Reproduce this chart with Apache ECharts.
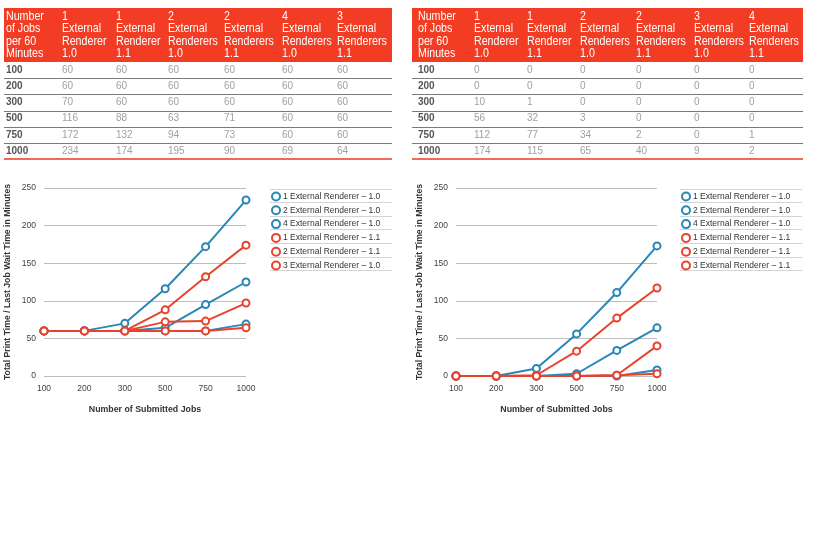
<!DOCTYPE html>
<html><head><meta charset="utf-8">
<script src="https://cdn.jsdelivr.net/npm/echarts@6/dist/echarts.min.js"></script>
<style>html,body{margin:0;padding:0;background:#fff}#c{width:813px;height:560px}</style>
</head><body><div id="c"></div>
<script>
// ---------- data ----------
const jobs = ['100', '200', '300', '500', '750', '1000'];

// left table
const leftHeaders = ['Number\nof Jobs\nper 60\nMinutes', '1\nExternal\nRenderer\n1.0', '1\nExternal\nRenderer\n1.1', '2\nExternal\nRenderers\n1.0', '2\nExternal\nRenderers\n1.1', '4\nExternal\nRenderers\n1.0', '3\nExternal\nRenderers\n1.1'];
const tL_1er10 = [60, 60, 70, 116, 172, 234];
const tL_1er11 = [60, 60, 60, 88, 132, 174];
const tL_2er10 = [60, 60, 60, 63, 94, 195];
const tL_2er11 = [60, 60, 60, 71, 73, 90];
const tL_4er10 = [60, 60, 60, 60, 60, 69];
const tL_3er11 = [60, 60, 60, 60, 60, 64];

// right table
const rightHeaders = ['Number\nof Jobs\nper 60\nMinutes', '1\nExternal\nRenderer\n1.0', '1\nExternal\nRenderer\n1.1', '2\nExternal\nRenderers\n1.0', '2\nExternal\nRenderers\n1.1', '3\nExternal\nRenderers\n1.0', '4\nExternal\nRenderers\n1.1'];
const tR_1er10 = [0, 0, 10, 56, 112, 174];
const tR_1er11 = [0, 0, 1, 32, 77, 115];
const tR_2er10 = [0, 0, 0, 3, 34, 65];
const tR_2er11 = [0, 0, 0, 0, 2, 40];
const tR_3er10 = [0, 0, 0, 0, 0, 9];
const tR_4er11 = [0, 0, 0, 0, 1, 2];

// left chart series (as plotted)
const leftNames = ['1 External Renderer – 1.0', '2 External Renderer – 1.0', '4 External Renderer – 1.0', '1 External Renderer – 1.1', '2 External Renderer – 1.1', '3 External Renderer – 1.0'];
const cL1 = [60, 60, 70, 116, 172, 234];
const cL2 = [60, 60, 60, 64, 95, 125];
const cL3 = [60, 60, 60, 60, 60, 69];
const cL4 = [60, 60, 60, 88, 132, 174];
const cL5 = [60, 60, 60, 72, 73, 97];
const cL6 = [60, 60, 60, 60, 60, 64];

// right chart series (as plotted)
const rightNames = ['1 External Renderer – 1.0', '2 External Renderer – 1.0', '4 External Renderer – 1.0', '1 External Renderer – 1.1', '2 External Renderer – 1.1', '3 External Renderer – 1.1'];
const cR1 = [0, 0, 10, 56, 111, 173];
const cR2 = [0, 0, 0, 3, 34, 64];
const cR3 = [0, 0, 0, 0, 0, 8];
const cR4 = [0, 0, 1, 33, 77, 117];
const cR5 = [0, 0, 0, 0, 1, 40];
const cR6 = [0, 0, 0, 0, 1, 3];

const yTitle = 'Total Print Time / Last Job Wait Time in Minutes';
const xTitle = 'Number of Submitted Jobs';

// ---------- style ----------
const BLUE = '#2a86b7';
const RED = '#e8432d';
const seriesColors = [BLUE, BLUE, BLUE, RED, RED, RED];
const FONT = '"Liberation Sans", Arial, Helvetica, sans-serif';

const graphics = [];
function buildTable(left, right, colX, headers, cols) {
  graphics.push({ type: 'rect', shape: { x: left, y: 8, width: right - left, height: 54 }, style: { fill: '#f23c23' }, silent: true });
  headers.forEach((h, i) => {
    graphics.push({ type: 'text', x: colX[i], y: 10.5, scaleX: 0.86, style: { text: h, fill: '#fff', font: '12.4px ' + FONT, lineHeight: 12.3, verticalAlign: 'top' }, silent: true });
  });
  const rowY = [70, 86.2, 102.4, 118.6, 134.8, 151];
  jobs.forEach((j, r) => {
    graphics.push({ type: 'text', x: colX[0], y: rowY[r], style: { text: j, fill: '#555', font: 'bold 10px ' + FONT, verticalAlign: 'middle' }, silent: true });
    cols.forEach((c, ci) => {
      graphics.push({ type: 'text', x: colX[ci + 1], y: rowY[r], style: { text: String(c[r]), fill: '#a0a0a0', font: '10px ' + FONT, verticalAlign: 'middle' }, silent: true });
    });
    if (r < jobs.length - 1) {
      const ly = Math.round(rowY[r] + 8.1) + 0.5;
      graphics.push({ type: 'line', shape: { x1: left, y1: ly, x2: right, y2: ly }, style: { stroke: '#7a7a7a', lineWidth: 1 }, silent: true });
    }
  });
  graphics.push({ type: 'line', shape: { x1: left, y1: 159, x2: right, y2: 159 }, style: { stroke: '#f26a58', lineWidth: 2 }, silent: true });
}
buildTable(4, 392, [6, 62, 116, 168, 224, 282, 337], leftHeaders, [tL_1er10, tL_1er11, tL_2er10, tL_2er11, tL_4er10, tL_3er11]);
buildTable(412, 803, [418, 474, 527, 580, 636, 694, 749], rightHeaders, [tR_1er10, tR_1er11, tR_2er10, tR_2er11, tR_3er10, tR_4er11]);

// legend separators
function legendLines(x1, x2) {
  for (let k = 0; k <= 6; k++) {
    const y = Math.round(188.5 + k * 13.65) + 0.5;
    graphics.push({ type: 'line', shape: { x1: x1, y1: y, x2: x2, y2: y }, style: { stroke: '#d4d4d4', lineWidth: 1 }, silent: true });
  }
}
legendLines(270, 392);
legendLines(680, 802);

function makeAxes(gridIndex) {
  return {
    x: {
      type: 'category', gridIndex: gridIndex, data: jobs, boundaryGap: false,
      axisLine: { show: false }, axisTick: { show: false },
      axisLabel: { color: '#444', fontSize: 8.5, fontFamily: FONT, margin: 8 },
      name: xTitle, nameLocation: 'middle', nameGap: 29,
      nameTextStyle: { fontWeight: 'bold', fontSize: 8.8, color: '#333', fontFamily: FONT }
    },
    y: {
      type: 'value', gridIndex: gridIndex, min: 0, max: 250, interval: 50,
      axisLine: { show: false }, axisTick: { show: false },
      axisLabel: { color: '#444', fontSize: 8.5, fontFamily: FONT, margin: 8 },
      splitLine: { lineStyle: { color: '#bdbdbd', width: 1 } },
      name: yTitle, nameLocation: 'middle', nameGap: 32, nameRotate: 90,
      nameTextStyle: { fontWeight: 'bold', fontSize: 8.7, color: '#333', fontFamily: FONT }
    }
  };
}
const aL = makeAxes(0), aR = makeAxes(1);

function mkSeries(names, datas, idx) {
  return datas.map((d, i) => ({
    type: 'line', name: names[i], xAxisIndex: idx, yAxisIndex: idx, data: d,
    color: seriesColors[i], symbol: 'emptyCircle', symbolSize: 7,
    lineStyle: { width: 2 }, itemStyle: { borderWidth: 1.8 }, showSymbol: true, animation: false
  }));
}
const series = [].concat(
  mkSeries(leftNames, [cL1, cL2, cL3, cL4, cL5, cL6], 0),
  mkSeries(rightNames, [cR1, cR2, cR3, cR4, cR5, cR6], 1)
);

function mkLegend(left, names) {
  return {
    orient: 'vertical', left: left, top: 191.5, padding: 0, itemWidth: 8, itemHeight: 8, itemGap: 3.8,
    icon: 'emptyCircle', data: names, selectedMode: false,
    itemStyle: { borderWidth: 1.5 },
    textStyle: { fontSize: 8.5, color: '#333', fontFamily: FONT, padding: [0, 0, 0, -2] }
  };
}

const chart = echarts.init(document.getElementById('c'), null, { renderer: 'canvas' });
chart.setOption({
  animation: false,
  textStyle: { fontFamily: FONT },
  grid: [
    { left: 44, top: 188, width: 202, height: 188 },
    { left: 456, top: 188, width: 201, height: 188 }
  ],
  xAxis: [aL.x, aR.x],
  yAxis: [aL.y, aR.y],
  legend: [mkLegend(271, leftNames), mkLegend(681, rightNames)],
  series: series,
  graphic: graphics
});
</script></body></html>
